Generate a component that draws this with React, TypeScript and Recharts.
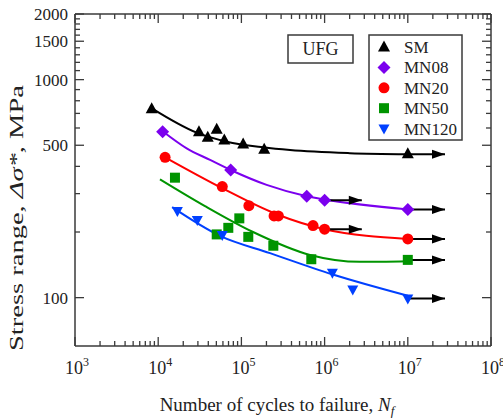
import React from "react";
import { ComposedChart, Line, Scatter, XAxis, YAxis } from "recharts";

const SERIF = "'Liberation Serif', 'Times New Roman', serif";
const INK = "#222";
const FRAME = "#3a3a3a";

// cycles to failure, log axis
const X_DOMAIN = [1e3, 1e8];
const X_MAJOR = [1e3, 1e4, 1e5, 1e6, 1e7, 1e8];
const X_EXPONENTS = ["3", "4", "5", "6", "7", "8"];
const X_MINOR_STEPS = [2, 3, 4, 5, 6, 7, 8, 9];

// stress range (MPa), log axis
const Y_DOMAIN = [60, 2000];
const Y_TICKS = [100, 200, 300, 400, 500, 600, 700, 800, 900, 1000, 1100, 1200, 1300, 1400, 1500, 1600, 1700, 1800, 1900, 2000];
const Y_LABELLED = [100, 500, 1000, 1500, 2000];

// measured points
const SM_N = [8350, 30900, 39400, 50500, 62300, 105000, 188000, 1e7];
const SM_S = [735, 577, 544, 592, 529, 507, 479, 457];
const MN08_N = [11300, 74300, 610000, 1e6, 1e7];
const MN08_S = [577, 385, 292, 280, 254];
const MN20_N = [12100, 58900, 123000, 247000, 278000, 726000, 1e6, 1e7];
const MN20_S = [440, 323, 264, 237, 237, 214, 206, 186];
const MN50_N = [15900, 50500, 69600, 94400, 121000, 242000, 692000, 1e7];
const MN50_S = [355, 195, 209, 231, 190, 173, 150, 149];
const MN120_N = [17000, 29500, 58900, 1.24e6, 2.18e6, 1e7];
const MN120_S = [250, 227, 194, 130, 109, 99];

// fitted curves
const SM_FIT_N = [8300, 29000, 66500, 182000, 384000, 2e6, 1e7];
const SM_FIT_S = [740, 571, 519, 489, 475, 460, 455];
const MN08_FIT_N = [11300, 22000, 42000, 74300, 201000, 610000, 1e6, 1e7];
const MN08_FIT_S = [580, 484, 428, 385, 329, 292, 282, 254];
const MN20_FIT_N = [12100, 58500, 261000, 1e6, 1e7];
const MN20_FIT_S = [440, 318, 242, 206, 186];
const MN50_FIT_N = [10500, 36500, 138000, 668000, 2.66e6, 1e7];
const MN50_FIT_S = [349, 263, 200, 157, 146, 147];
const MN120_FIT_N = [14700, 55300, 221000, 1.23e6, 1e7];
const MN120_FIT_S = [260, 192, 160, 128, 102];

// run-outs (arrows)
const RUNOUT_N = [1e7, 1e6, 1e7, 1e6, 1e7, 1e7, 1e7];
const RUNOUT_END_N = [2.8e7, 2.8e6, 2.8e7, 2.8e6, 2.8e7, 2.8e7, 2.8e7];
const RUNOUT_S = [455, 280, 254, 206, 186, 149, 99];

const SERIES_NAMES = ["SM", "MN08", "MN20", "MN50", "MN120"];
const SERIES_COLORS = ["#000000", "#7B00EE", "#FF0000", "#009400", "#0040FF"];
const SERIES_SHAPES = ["triangle", "diamond", "circle", "square", "down"];
const SERIES_N = [SM_N, MN08_N, MN20_N, MN50_N, MN120_N];
const SERIES_S = [SM_S, MN08_S, MN20_S, MN50_S, MN120_S];
const FIT_N = [SM_FIT_N, MN08_FIT_N, MN20_FIT_N, MN50_FIT_N, MN120_FIT_N];
const FIT_S = [SM_FIT_S, MN08_FIT_S, MN20_FIT_S, MN50_FIT_S, MN120_FIT_S];

const X_TICKS = X_MAJOR.flatMap((d, i) =>
  i === X_MAJOR.length - 1 ? [d] : [d, ...X_MINOR_STEPS.map((s) => s * d)]
);

const rows = (n: number[], s: number[]) => n.map((x, i) => ({ x, y: s[i] }));

function Marker({ kind, cx, cy, color }: { kind: string; cx: number; cy: number; color: string }) {
  if (cx == null || cy == null) return null;
  if (kind === "triangle")
    return <polygon points={`${cx},${cy - 6.5} ${cx - 6},${cy + 4.5} ${cx + 6},${cy + 4.5}`} fill={color} />;
  if (kind === "down")
    return <polygon points={`${cx},${cy + 6} ${cx - 5.5},${cy - 4} ${cx + 5.5},${cy - 4}`} fill={color} />;
  if (kind === "diamond")
    return <polygon points={`${cx},${cy - 6.5} ${cx + 6.5},${cy} ${cx},${cy + 6.5} ${cx - 6.5},${cy}`} fill={color} />;
  if (kind === "square") return <rect x={cx - 5} y={cy - 5} width={10} height={10} fill={color} />;
  return <circle cx={cx} cy={cy} r={5.5} fill={color} />;
}

/* eslint-disable @typescript-eslint/no-explicit-any */
const XTick = ({ x, y, payload, top }: any) => {
  const i = X_MAJOR.indexOf(payload.value);
  const len = i >= 0 ? 9 : 5;
  const dir = top ? 1 : -1;
  return (
    <g>
      <line x1={x} x2={x} y1={y} y2={y + dir * len} stroke={FRAME} strokeWidth={1.3} />
      {!top && i >= 0 && (
        <text x={x + 2} y={y + 28} textAnchor="middle" fontFamily={SERIF} fontSize={18} fill={INK}>
          10
          <tspan dy={-8} fontSize={12}>
            {X_EXPONENTS[i]}
          </tspan>
        </text>
      )}
    </g>
  );
};

const YTick = ({ x, y, payload, right }: any) => {
  const major = Y_LABELLED.includes(payload.value);
  const len = major ? 9 : 5;
  const dir = right ? -1 : 1;
  return (
    <g>
      <line x1={x} x2={x + dir * len} y1={y} y2={y} stroke={FRAME} strokeWidth={1.3} />
      {!right && major && (
        <text x={x - 7} y={y} dy="0.35em" textAnchor="end" fontFamily={SERIF} fontSize={17} fill={INK}>
          {payload.value}
        </text>
      )}
    </g>
  );
};

const arrowHead = (p: any) =>
  p.index === 1 ? (
    <polygon
      key={`ah-${p.index}`}
      points={`${p.cx},${p.cy} ${p.cx - 13},${p.cy - 4.5} ${p.cx - 13},${p.cy + 4.5}`}
      fill="#000"
    />
  ) : (
    <g key={`ah-${p.index}`} />
  );
/* eslint-enable @typescript-eslint/no-explicit-any */

export default function App() {
  const axisLine = { stroke: FRAME, strokeWidth: 1.5 };
  const xCommon = {
    type: "number" as const,
    dataKey: "x",
    scale: "log" as const,
    domain: X_DOMAIN,
    allowDataOverflow: true,
    ticks: X_TICKS,
    interval: 0,
    height: 1,
    tickSize: 0,
    tickMargin: 0,
    tickLine: false,
    axisLine,
  };
  const yCommon = {
    type: "number" as const,
    scale: "log" as const,
    domain: Y_DOMAIN,
    allowDataOverflow: true,
    ticks: Y_TICKS,
    interval: 0,
    width: 1,
    tickSize: 0,
    tickMargin: 0,
    tickLine: false,
    axisLine,
  };
  return (
    <div style={{ position: "absolute", left: 0, top: 0, width: 503, height: 418, background: "#fff" }}>
      <ComposedChart width={503} height={418} margin={{ top: 13, right: 11, bottom: 71, left: 74 }}>
        <XAxis xAxisId="b" {...xCommon} tick={<XTick />} />
        <XAxis xAxisId="t" orientation="top" {...xCommon} tick={<XTick top />} />
        <YAxis yAxisId="l" {...yCommon} tick={<YTick />} />
        <YAxis yAxisId="r" orientation="right" {...yCommon} tick={<YTick right />} />

        {SERIES_NAMES.map((name, k) => (
          <Line
            key={`fit-${name}`}
            xAxisId="b"
            yAxisId="l"
            data={rows(FIT_N[k], FIT_S[k])}
            dataKey="y"
            type="monotone"
            stroke={SERIES_COLORS[k]}
            strokeWidth={2}
            dot={false}
            activeDot={false}
            isAnimationActive={false}
          />
        ))}

        {RUNOUT_N.map((n, k) => (
          <Line
            key={`ro-${k}`}
            xAxisId="b"
            yAxisId="l"
            data={[
              { x: n, y: RUNOUT_S[k] },
              { x: RUNOUT_END_N[k], y: RUNOUT_S[k] },
            ]}
            dataKey="y"
            type="linear"
            stroke="#000"
            strokeWidth={2}
            dot={arrowHead}
            activeDot={false}
            isAnimationActive={false}
          />
        ))}

        {SERIES_NAMES.map((name, k) => (
          <Scatter
            key={`pts-${name}`}
            xAxisId="b"
            yAxisId="l"
            data={rows(SERIES_N[k], SERIES_S[k])}
            dataKey="y"
            isAnimationActive={false}
            shape={(p: any) => (
              <Marker kind={SERIES_SHAPES[k]} cx={p.cx} cy={p.cy} color={SERIES_COLORS[k]} />
            )}
          />
        ))}
      </ComposedChart>

      <svg
        width={503}
        height={418}
        style={{ position: "absolute", left: 0, top: 0, pointerEvents: "none" }}
      >
        {/* sample label */}
        <rect x={288} y={35} width={65} height={28} fill="#fff" stroke={FRAME} strokeWidth={1.5} />
        <text x={320.5} y={55} textAnchor="middle" fontFamily={SERIF} fontSize={18} fill={INK}>
          UFG
        </text>

        {/* legend */}
        <rect x={369} y={35} width={93} height={105} fill="#fff" stroke={FRAME} strokeWidth={1.5} />
        {SERIES_NAMES.map((name, k) => (
          <g key={`lg-${name}`}>
            <Marker kind={SERIES_SHAPES[k]} cx={384} cy={47 + k * 20.4} color={SERIES_COLORS[k]} />
            <text x={404} y={47 + k * 20.4} dy="0.35em" fontFamily={SERIF} fontSize={17} fill={INK}>
              {name}
            </text>
          </g>
        ))}

        {/* axis titles */}
        <text x={277} y={411} textAnchor="middle" fontFamily={SERIF} fontSize={19} fill={INK}>
          Number of cycles to failure,{" "}
          <tspan fontStyle="italic">N</tspan>
          <tspan fontStyle="italic" fontSize={13} dy={4}>
            f
          </tspan>
        </text>
        <text
          transform="translate(23,218) rotate(-90)"
          textAnchor="middle"
          fontFamily={SERIF}
          fontSize={19}
          fill={INK}
          textLength={266}
          lengthAdjust="spacingAndGlyphs"
        >
          Stress range, <tspan fontStyle="italic">Δσ*</tspan>, MPa
        </text>
      </svg>
    </div>
  );
}
